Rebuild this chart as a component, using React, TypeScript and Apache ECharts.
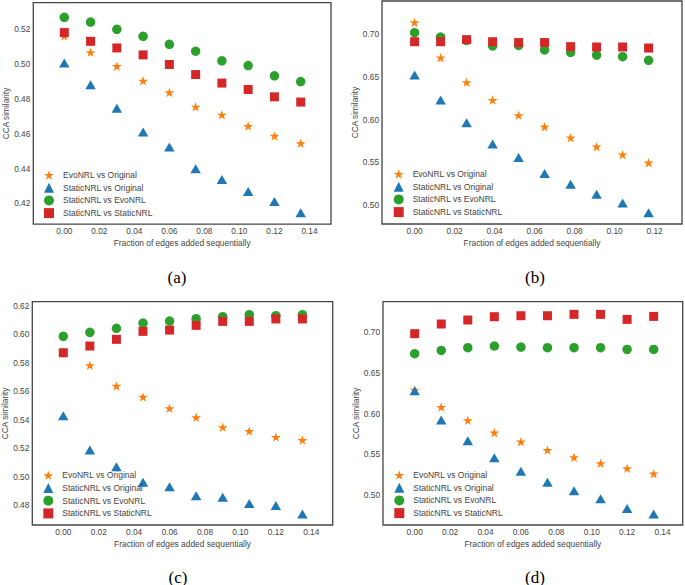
import React, { useEffect, useRef } from "react";
import * as echarts from "echarts";

// ---------- data ----------
const seriesNames = [
  "EvoNRL vs Original",
  "StaticNRL vs Original",
  "StaticNRL vs EvoNRL",
  "StaticNRL vs StaticNRL",
];

const xFractionsA = [0, 0.015, 0.03, 0.045, 0.06, 0.075, 0.09, 0.105, 0.12, 0.135];
const xFractionsB = [0, 0.013, 0.026, 0.039, 0.052, 0.065, 0.078, 0.091, 0.104, 0.117];

// panel (a)
const aEvoOrig = [0.5162, 0.5068, 0.4988, 0.4904, 0.4837, 0.4755, 0.4709, 0.4644, 0.4587, 0.4545];
const aStaticOrig = [0.5006, 0.4881, 0.4747, 0.461, 0.4524, 0.4398, 0.4337, 0.4268, 0.4211, 0.4146];
const aStaticEvo = [0.5269, 0.5242, 0.52, 0.516, 0.5114, 0.5074, 0.5019, 0.4992, 0.4933, 0.49];
const aStaticStatic = [0.5181, 0.5131, 0.5093, 0.5053, 0.4998, 0.494, 0.4891, 0.4854, 0.4812, 0.4782];

// panel (b)
const bEvoOrig = [0.7136, 0.6723, 0.6435, 0.6228, 0.6049, 0.5916, 0.5787, 0.5682, 0.5589, 0.5495];
const bStaticOrig = [0.652, 0.6228, 0.5963, 0.5713, 0.5557, 0.537, 0.5242, 0.5125, 0.5023, 0.491];
const bStaticEvo = [0.7016, 0.6965, 0.6925, 0.686, 0.6867, 0.6813, 0.6786, 0.6754, 0.6735, 0.6692];
const bStaticStatic = [0.691, 0.691, 0.6934, 0.691, 0.69, 0.69, 0.6852, 0.6848, 0.6848, 0.6836];

// panel (c)
const cEvoOrig = [0.5875, 0.5782, 0.5637, 0.556, 0.548, 0.5417, 0.5347, 0.5321, 0.5279, 0.5258];
const cStaticOrig = [0.5429, 0.5188, 0.5071, 0.4961, 0.4931, 0.4868, 0.4856, 0.4812, 0.4798, 0.4739];
const cStaticEvo = [0.5985, 0.6013, 0.6041, 0.6078, 0.6092, 0.6109, 0.6123, 0.6137, 0.613, 0.6137];
const cStaticStatic = [0.587, 0.5917, 0.5964, 0.602, 0.6029, 0.6062, 0.609, 0.609, 0.6107, 0.6107];

// panel (d)
const dEvoOrig = [0.629, 0.608, 0.5916, 0.5764, 0.5653, 0.555, 0.546, 0.5386, 0.5324, 0.5259];
const dStaticOrig = [0.6281, 0.592, 0.5665, 0.5456, 0.5287, 0.5152, 0.5049, 0.495, 0.4828, 0.4762];
const dStaticEvo = [0.6737, 0.6778, 0.6811, 0.6832, 0.6819, 0.6811, 0.6811, 0.6811, 0.679, 0.679];
const dStaticStatic = [0.6984, 0.7103, 0.7152, 0.7193, 0.7205, 0.7205, 0.7222, 0.7222, 0.716, 0.7197];

// tick labels
const xTicks14 = [0, 0.02, 0.04, 0.06, 0.08, 0.1, 0.12, 0.14];
const xTicks12 = [0, 0.02, 0.04, 0.06, 0.08, 0.1, 0.12];
const yTicksA = [0.42, 0.44, 0.46, 0.48, 0.5, 0.52];
const yTicksB = [0.5, 0.55, 0.6, 0.65, 0.7];
const yTicksC = [0.48, 0.5, 0.52, 0.54, 0.56, 0.58, 0.6, 0.62];
const yTicksD = [0.5, 0.55, 0.6, 0.65, 0.7];

const captions = ["(a)", "(b)", "(c)", "(d)"];
const xAxisTitle = "Fraction of edges added sequentially";
const yAxisTitle = "CCA similarity";

// ---------- styling / layout ----------
const COLORS = ["#ff7f0e", "#1f77b4", "#2ca02c", "#d62728"];
const STAR =
  "path://M0,-1L0.2245,-0.309L0.951,-0.309L0.363,0.118L0.588,0.809L0,0.382L-0.588,0.809L-0.363,0.118L-0.951,-0.309L-0.2245,-0.309Z";
const SYMBOLS = [STAR, "triangle", "circle", "rect"];
const SIZES: any[] = [[10, 9.5], [10.5, 9], 9.5, 9];
const FONT = "Liberation Sans, Arial, sans-serif";
const TEXT = "#444";

const panels = [
  {
    xs: xFractionsA,
    ys: [aEvoOrig, aStaticOrig, aStaticEvo, aStaticStatic],
    xTicks: xTicks14, yTicks: yTicksA,
    xRange: [-0.0177, 0.1523], yRange: [0.408, 0.5353],
    grid: { left: 33.3, top: 2.7, width: 297.7, height: 221.5 },
    legend: { left: 44, top: 170 },
    caption: { x: 177, y: 277 },
  },
  {
    xs: xFractionsB,
    ys: [bEvoOrig, bStaticOrig, bStaticEvo, bStaticStatic],
    xTicks: xTicks12, yTicks: yTicksB,
    xRange: [-0.0163, 0.1337], yRange: [0.4778, 0.7386],
    grid: { left: 382, top: 1, width: 300, height: 223 },
    legend: { left: 393.7, top: 169 },
    caption: { x: 535, y: 277 },
  },
  {
    xs: xFractionsA,
    ys: [cEvoOrig, cStaticOrig, cStaticEvo, cStaticStatic],
    xTicks: xTicks14, yTicks: yTicksC,
    xRange: [-0.0175, 0.1521], yRange: [0.4662, 0.6228],
    grid: { left: 32.3, top: 301.7, width: 300.4, height: 223.3 },
    legend: { left: 43.3, top: 470.3 },
    caption: { x: 178, y: 577 },
  },
  {
    xs: xFractionsA,
    ys: [dEvoOrig, dStaticOrig, dStaticEvo, dStaticStatic],
    xTicks: xTicks14, yTicks: yTicksD,
    xRange: [-0.0179, 0.1514], yRange: [0.4626, 0.7378],
    grid: { left: 383, top: 301.7, width: 299.7, height: 223.3 },
    legend: { left: 394.3, top: 470 },
    caption: { x: 535, y: 577 },
  },
];

function buildOption() {
  const grid: any[] = [];
  const xAxis: any[] = [];
  const yAxis: any[] = [];
  const series: any[] = [];
  const legend: any[] = [];
  const graphic: any[] = [];

  panels.forEach((p, i) => {
    grid.push({
      ...p.grid,
      show: true,
      borderColor: "#444",
      borderWidth: 1.3,
      backgroundColor: "transparent",
      containLabel: false,
      outerBoundsMode: "none",
    });
    xAxis.push({
      type: "value",
      gridIndex: i,
      min: p.xRange[0],
      max: p.xRange[1],
      axisLine: { show: false },
      axisTick: { show: false },
      splitLine: { show: false },
      axisLabel: {
        customValues: p.xTicks,
        formatter: (v: number) => v.toFixed(2),
        fontSize: 8.3,
        color: TEXT,
        fontFamily: FONT,
        margin: 3,
      },
      name: xAxisTitle,
      nameLocation: "middle",
      nameGap: 15,
      nameTextStyle: { fontSize: 8.4, color: TEXT, fontFamily: FONT },
    });
    yAxis.push({
      type: "value",
      gridIndex: i,
      min: p.yRange[0],
      max: p.yRange[1],
      axisLine: { show: false },
      axisTick: { show: false },
      splitLine: { show: false },
      axisLabel: {
        customValues: p.yTicks,
        formatter: (v: number) => v.toFixed(2),
        fontSize: 8.3,
        color: TEXT,
        fontFamily: FONT,
        margin: 3,
      },
      name: yAxisTitle,
      nameLocation: "middle",
      nameRotate: 90,
      nameGap: 22,
      nameTextStyle: { fontSize: 8.3, color: TEXT, fontFamily: FONT },
    });
    seriesNames.forEach((name, k) => {
      series.push({
        type: "scatter",
        name,
        xAxisIndex: i,
        yAxisIndex: i,
        data: p.xs.map((x, j) => [x, p.ys[k][j]]),
        symbol: SYMBOLS[k],
        symbolSize: SIZES[k],
        itemStyle: { color: COLORS[k], opacity: 1 },
        emphasis: { disabled: true },
        z: 2 + k,
      });
    });
    legend.push({
      data: seriesNames.map((n, k) => ({ name: n, icon: SYMBOLS[k] })),
      orient: "vertical",
      left: p.legend.left,
      top: p.legend.top,
      itemWidth: 10,
      itemHeight: 10,
      itemGap: 2.7,
      padding: 0,
      selectedMode: false,
      itemStyle: { borderWidth: 0 },
      textStyle: {
        fontSize: 8.5,
        lineHeight: 10,
        color: TEXT,
        fontFamily: FONT,
        padding: [0, 0, 0, 4],
      },
    });
    graphic.push({
      type: "text",
      x: p.caption.x,
      y: p.caption.y,
      style: {
        text: captions[i],
        fontSize: 17,
        fontFamily: "Liberation Serif, Times New Roman, serif",
        fill: "#000",
        align: "center",
        verticalAlign: "middle",
      },
    });
  });

  return {
    animation: false,
    backgroundColor: "#fff",
    grid,
    xAxis,
    yAxis,
    series,
    legend,
    graphic,
  };
}

export default function App() {
  const ref = useRef<HTMLDivElement>(null);
  useEffect(() => {
    if (!ref.current) return;
    const chart = echarts.init(ref.current, undefined, { renderer: "svg" });
    chart.setOption(buildOption() as any);
    return () => chart.dispose();
  }, []);
  return (
    <div style={{ position: "fixed", left: 0, top: 0, width: 685, height: 585, background: "#fff" }}>
      <div ref={ref} style={{ width: 685, height: 585 }} />
    </div>
  );
}
